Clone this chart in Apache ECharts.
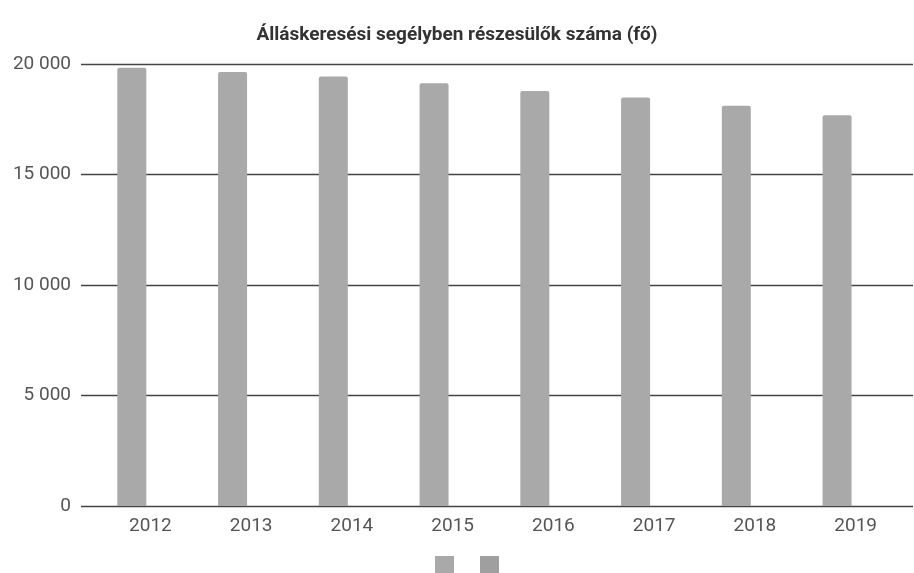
<!DOCTYPE html>
<html><head><meta charset="utf-8">
<script src="https://cdn.jsdelivr.net/npm/echarts@6/dist/echarts.min.js"></script>
<style>html,body{margin:0;padding:0;background:#fff}#c{width:914px;height:573px}</style>
</head><body><div id="c"></div>
<script>
var title = 'Álláskeresési segélyben részesülők száma (fő)';
var years = ['2012','2013','2014','2015','2016','2017','2018','2019'];
var recipients = [19830, 19640, 19430, 19130, 18780, 18480, 18110, 17680];
var secondSeries = [null, null, null, null, null, null, null, null];
var yTicks = [0, 5000, 10000, 15000, 20000];

function fmt(v){ return String(v).replace(/\B(?=(\d{3})+(?!\d))/g, ' '); }

var chart = echarts.init(document.getElementById('c'), null, {renderer:'canvas'});
chart.setOption({
  animation:false,
  backgroundColor:'#fff',
  title:{text:title,left:'center',top:21,textStyle:{fontFamily:'Roboto',fontWeight:'bold',fontSize:19,color:'#333'}},
  legend:{top:551,left:430,icon:'rect',itemWidth:19,itemHeight:19,itemGap:26,formatter:function(){return '';},
    data:['Álláskeresési segélyben részesülők','Sorozat 2'],selectedMode:false},
  grid:[
    {left:81,right:1,top:64,bottom:67},
    {left:100,right:8,top:64,bottom:67}
  ],
  xAxis:[
    {gridIndex:0,type:'category',data:years,show:false},
    {gridIndex:1,type:'category',data:years,axisLine:{show:false},axisTick:{show:false},
     axisLabel:{margin:11,fontFamily:'Roboto',fontSize:19,color:'#555'}}
  ],
  yAxis:[
    {gridIndex:0,type:'value',min:yTicks[0],max:yTicks[yTicks.length-1],interval:5000,
     axisLine:{show:false},axisTick:{show:false},
     axisLabel:{margin:10,fontFamily:'Roboto',fontSize:19,color:'#555',formatter:fmt},
     splitLine:{lineStyle:{color:'#444',width:1.3}}},
    {gridIndex:1,type:'value',min:yTicks[0],max:yTicks[yTicks.length-1],interval:5000,show:false,splitLine:{show:false}}
  ],
  series:[
    {name:'Álláskeresési segélyben részesülők',type:'bar',xAxisIndex:1,yAxisIndex:1,data:recipients,
     barWidth:29,barGap:'28%',itemStyle:{color:'#a9a9a9',borderRadius:[2,2,0,0]}},
    {name:'Sorozat 2',type:'bar',xAxisIndex:1,yAxisIndex:1,data:secondSeries,
     barWidth:29,barGap:'28%',itemStyle:{color:'#9f9f9f'}}
  ]
});
</script></body></html>
